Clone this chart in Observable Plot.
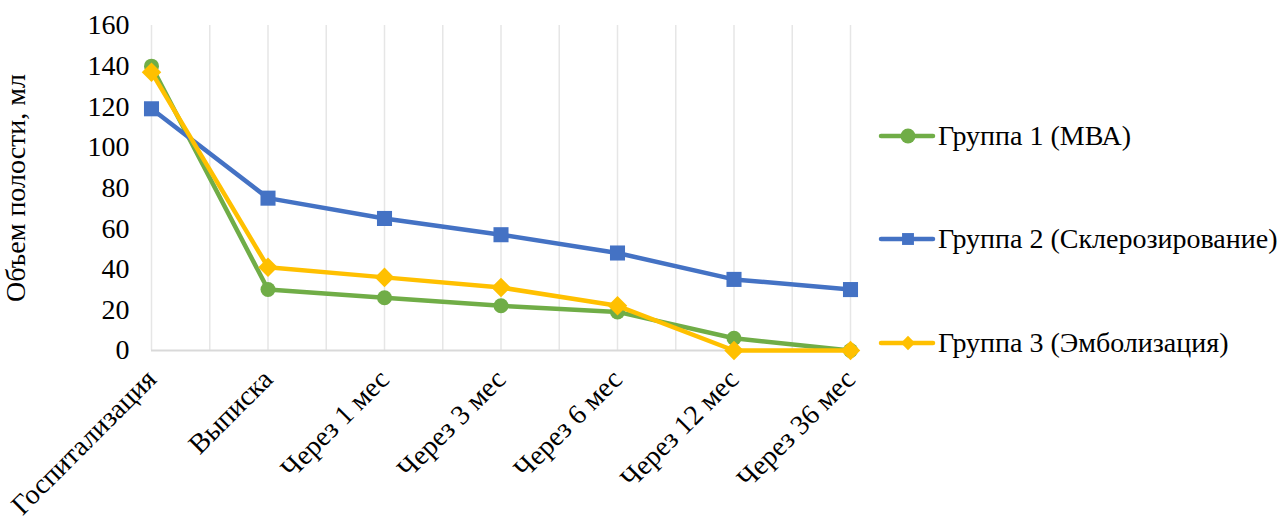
<!DOCTYPE html>
<html>
<head>
<meta charset="utf-8">
<script src="https://cdn.jsdelivr.net/npm/d3@7"></script>
<script src="https://cdn.jsdelivr.net/npm/@observablehq/plot@0.6"></script>
<style>
  html, body { margin: 0; padding: 0; background: #fff; font-family: 'Liberation Serif', serif; }
  #wrap { position: relative; width: 1284px; height: 517px; overflow: hidden; }
  #legend { position: absolute; left: 878px; top: 0; }
  .item { position: absolute; left: 0; display: flex; align-items: center; white-space: nowrap; font-size: 28px; color: #000; font-family: 'Liberation Serif', serif; }
  .item svg { display: block; }
</style>
</head>
<body>
<div id="wrap"><div id="chart"></div><div id="legend"></div></div>
<script>
const categories = ["Госпитализация", "Выписка", "Через 1 мес", "Через 3 мес", "Через 6 мес", "Через 12 мес", "Через 36 мес"];
const seriesNames = ["Группа 1 (МВА)", "Группа 2 (Склерозирование)", "Группа 3 (Эмболизация)"];
const group1 = [140, 30, 26, 22, 19, 6, 0];
const group2 = [119, 75, 65, 57, 48, 35, 30];
const group3 = [137, 41, 36, 31, 22, 0, 0];
const colors = ["#70AD47", "#4472C4", "#FFC000"];
const symbols = ["circle", "square", "diamond2"];
const yTicks = [0, 20, 40, 60, 80, 100, 120, 140, 160];

const seriesValues = [group1, group2, group3];
const data = [];
seriesNames.forEach((s, k) => seriesValues[k].forEach((v, i) => data.push({series: s, i, value: v})));

const markerR = [7.5, 8.5, 8.8];
const gridPos = d3.range(0, categories.length - 0.99, 0.5);

const marks = [
  Plot.gridX(gridPos, {stroke: "#E6E6E6", strokeOpacity: 1, strokeWidth: 1.5}),
  Plot.ruleY([0], {stroke: "#D9D9D9", strokeWidth: 2}),
  Plot.axisY({ticks: yTicks, tickSize: 0, tickPadding: 22, fontSize: 28, label: "Объем полости, мл", labelAnchor: "center", labelArrow: "none", labelOffset: 146}),
  Plot.axisX({ticks: d3.range(categories.length), tickFormat: i => categories[i], tickSize: 0, tickRotate: -45, tickPadding: 24, fontSize: 28, label: null})
];
seriesNames.forEach((s, k) => {
  const rows = data.filter(d => d.series === s);
  marks.push(Plot.line(rows, {x: "i", y: "value", stroke: "series", strokeWidth: 4.5, strokeLinejoin: "round", strokeLinecap: "round"}));
  marks.push(Plot.dot(rows, {x: "i", y: "value", fill: "series", symbol: "series", r: markerR[k], stroke: "none"}));
});

const chart = Plot.plot({
  width: 1284,
  height: 517,
  marginLeft: 151,
  marginRight: 434,
  marginTop: 25,
  marginBottom: 167,
  style: {fontFamily: "Liberation Serif", fontSize: "28px", color: "#000", background: "#fff", overflow: "visible"},
  x: {type: "linear", domain: [0, categories.length - 1]},
  y: {domain: [0, 160]},
  color: {domain: seriesNames, range: colors},
  symbol: {domain: seriesNames, range: symbols},
  marks
});
document.getElementById("chart").appendChild(chart);

// Legend
const legendY = [136, 239, 343];
const legend = document.getElementById("legend");
seriesNames.forEach((s, k) => {
  const item = document.createElement("div");
  item.className = "item";
  item.style.top = (legendY[k] - 18) + "px";
  const sym = d3.symbol(k === 0 ? d3.symbolCircle : (k === 1 ? d3.symbolSquare2 : d3.symbolDiamond2), k === 0 ? Math.PI * 56 : (k === 1 ? 180 : 130))();
  item.innerHTML = `<svg width="58" height="36" viewBox="0 0 58 36"><line x1="3" x2="55" y1="18" y2="18" stroke="${colors[k]}" stroke-width="4.5" stroke-linecap="round"/><path d="${sym}" transform="translate(30,18)" fill="${colors[k]}"/></svg><span style="margin-left:2px">${s}</span>`;
  legend.appendChild(item);
});
</script>
</body>
</html>
